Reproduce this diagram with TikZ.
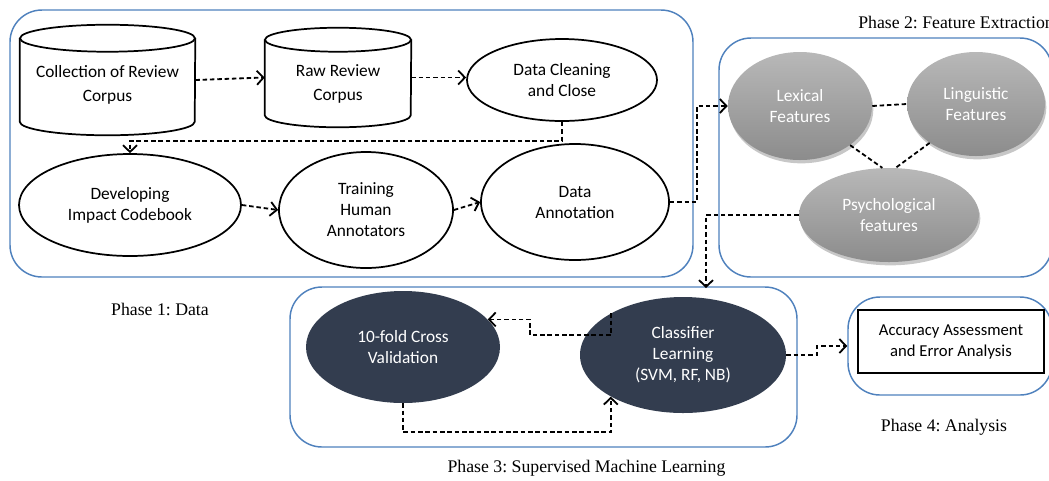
\documentclass[tikz,border=0pt]{standalone}
\usepackage{fontspec}
\setmainfont{Liberation Serif}
\newfontfamily\boxfont{Carlito}
\usetikzlibrary{shapes.geometric,arrows.meta,shadows,calc}
\definecolor{phaseblue}{RGB}{79,129,189}
\definecolor{darkfill}{RGB}{51,61,79}
\definecolor{grayhi}{RGB}{184,184,184}
\definecolor{graylo}{RGB}{140,140,140}
\frenchspacing
\begin{document}
\begin{tikzpicture}[x=0.75pt,y=-0.75pt,
  phase/.style={draw=phaseblue, line width=1.1pt, rounded corners=24pt, rectangle, inner sep=0pt},
  txt/.style={font=\boxfont\fontsize{13}{15.75}\selectfont, align=center},
  cyltxt/.style={font=\boxfont\fontsize{13}{18}\selectfont, align=center},
  wellipse/.style={ellipse, draw, line width=1.3pt, fill=white, inner sep=0pt, txt},
  gellipse/.style={ellipse, inner sep=0pt, txt, text=white, top color=grayhi, bottom color=graylo,
    drop shadow={shadow xshift=1pt, shadow yshift=-2.5pt, opacity=0.22, fill=black}},
  dellipse/.style={ellipse, fill=darkfill, text=white, inner sep=0pt, txt},
  cylbox/.style={rectangle, inner sep=0pt},
  cylline/.style={line width=1.3pt},
  conn/.style={line width=1.35pt, dash pattern=on 3.4pt off 2.1pt,
    -{Straight Barb[length=5pt,width=10.5pt,line width=1.35pt]}},
  link/.style={line width=1.35pt, dash pattern=on 3.4pt off 2.1pt},
  phaselabel/.style={font=\fontsize{13.3}{16}\selectfont, inner sep=0pt}
]
\clip (0,0) rectangle (1049,480);

% phase frames
\node[phase, minimum width=512.25pt, minimum height=200.25pt] (p1) at (351.5,143.5) {};
\node[phase, minimum width=249.75pt, minimum height=179.25pt] (p2) at (885.5,157.5) {};
\node[phase, minimum width=380.25pt, minimum height=120pt] (p3) at (543.5,367) {};
\node[phase, minimum width=153pt, minimum height=73.5pt] (p4) at (950,346) {};

% phase titles
\node[phaselabel] (t1) at (160,309) {Phase 1: Data};
\node[phaselabel, anchor=west] (t2) at (858,22) {Phase 2: Feature Extraction};
\node[phaselabel] (t3) at (586.5,468) {Phase 3: Supervised Machine Learning};
\node[phaselabel] (t4) at (944,427) {Phase 4: Analysis};

% phase 1: corpus stores
\node[cylbox, minimum width=131.25pt, minimum height=82.5pt,
  label={[cyltxt, yshift=-3.75pt]center:Collection of Review\\Corpus}] (c1) at (107.5,80) {};
\draw[cylline] ([yshift=-10.125pt]c1.north west) -- ([yshift=10.125pt]c1.south west)
  arc[start angle=180, end angle=360, x radius=65.625pt, y radius=10.125pt]
  -- ([yshift=-10.125pt]c1.north east);
\draw[cylline] ([yshift=-10.125pt]c1.north) ellipse [x radius=65.625pt, y radius=10.125pt];

\node[cylbox, minimum width=109.5pt, minimum height=74.25pt,
  label={[cyltxt, yshift=-4.9pt]center:Raw Review\\Corpus}] (c2) at (338,77.5) {};
\draw[cylline] ([yshift=-9pt]c2.north west) -- ([yshift=9pt]c2.south west)
  arc[start angle=180, end angle=360, x radius=54.75pt, y radius=9pt]
  -- ([yshift=-9pt]c2.north east);
\draw[cylline] ([yshift=-9pt]c2.north) ellipse [x radius=54.75pt, y radius=9pt];

% phase 1: processing steps
\node[wellipse, minimum width=142.5pt, minimum height=61.5pt] (dc) at (562,80) {Data Cleaning\\and Close};
\node[wellipse, minimum width=166.5pt, minimum height=76.5pt] (dev) at (130,205) {Developing\\Impact Codebook};
\node[wellipse, minimum width=130.5pt, minimum height=87pt] (tr) at (366,210) {Training\\Human\\Annotators};
\node[wellipse, minimum width=141pt, minimum height=87pt] (da) at (575,202) {Data\\Annotation};

% phase 2: feature groups
\node[gellipse, minimum width=108pt, minimum height=81pt] (lex) at (800,106) {Lexical\\Features};
\node[gellipse, minimum width=103.5pt, minimum height=78pt] (lin) at (976,104) {Linguistic\\Features};
\node[gellipse, minimum width=135pt, minimum height=70.5pt] (psy) at (889,215) {Psychological\\features};

% phase 3: learning
\node[dellipse, minimum width=145.5pt, minimum height=84pt] (tf) at (403,347) {10-fold Cross\\Validation};
\node[dellipse, minimum width=154.5pt, minimum height=87pt] (cl) at (683,355) {Classifier\\Learning\\(SVM, RF, NB)};

% phase 4: evaluation
\node[rectangle, draw, line width=1.5pt, minimum width=139.5pt, minimum height=47.25pt, inner sep=0pt, txt,
  font=\boxfont\fontsize{12.5}{15.75}\selectfont] (acc) at (951,341.5) {Accuracy Assessment\\and Error Analysis};

\coordinate (p3in) at (706,288);

% connectors
\draw[conn] (c1.east) -- (c2.west);
\draw[conn] (c2.east) -- (c2.east -| dc.west);
\draw[conn] (dc.south) -- ++(0,19) -| (dev.north);
\draw[conn] (dev.east) -- (tr.west);
\draw[conn] (tr.east) -- (da.west);
\draw[conn] (da.east) -- ++(27,0) |- (lex.west);
\draw[link] (lex.east) -- (lin.west);
\draw[link] (lex.-38) -- (psy.98);
\draw[link] (lin.220) -- (psy.82);
\draw[conn] (psy.west) -| (p3in);
\draw[conn] (cl.150) |- (530,335) |- (tf.18);
\draw[conn] (tf.south) -- ++(0,29) -| (cl.210);
\draw[conn] (cl.east) -- ++(31,0) |- (p4.west);
\end{tikzpicture}
\end{document}
